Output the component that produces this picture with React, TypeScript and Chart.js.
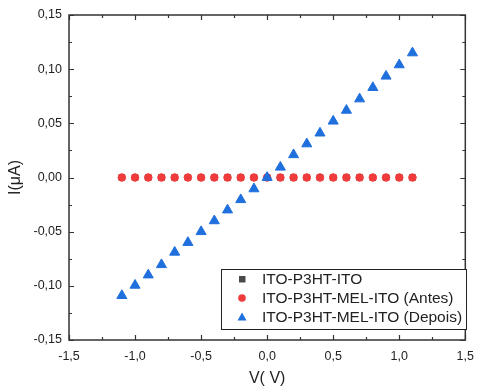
import React, { useEffect, useRef } from "react";
import { Chart, registerables } from "chart.js";

Chart.register(...registerables);

const voltages = [-1.1, -1.0, -0.9, -0.8, -0.7, -0.6, -0.5, -0.4, -0.3, -0.2, -0.1, 0.0, 0.1, 0.2, 0.3, 0.4, 0.5, 0.6, 0.7, 0.8, 0.9, 1.0, 1.1];
const currentP3HT = [0, 0, 0, 0, 0, 0, 0, 0, 0, 0, 0, 0, 0, 0, 0, 0, 0, 0, 0, 0, 0, 0, 0];
const currentAntes = [0, 0, 0, 0, 0, 0, 0, 0, 0, 0, 0, 0, 0, 0, 0, 0, 0, 0, 0, 0, 0, 0, 0];
const currentDepois = [-0.109, -0.0995, -0.09, -0.0805, -0.069, -0.06, -0.05, -0.04, -0.03, -0.0205, -0.0105, 0.0, 0.0095, 0.021, 0.031, 0.041, 0.052, 0.062, 0.0725, 0.083, 0.0935, 0.104, 0.115];
const seriesLabels = ["ITO-P3HT-ITO", "ITO-P3HT-MEL-ITO (Antes)", "ITO-P3HT-MEL-ITO (Depois)"];
const seriesColors = ["#4a4a4a", "#ef3b3b", "#1f6fdd"];
const xTitle = "V( V)";
const yTitle = "I(\u03bcA)";

const FONT = "'Liberation Sans', Arial, sans-serif";
const INK = "#222222";

const framePlugin = {
  id: "frameTicks",
  afterDatasetsDraw(chart: any) {
    const { ctx, chartArea } = chart;
    const { left, right, top, bottom } = chartArea;
    const xs = chart.scales.x;
    const ys = chart.scales.y;
    ctx.save();
    ctx.strokeStyle = "#333333";
    ctx.lineWidth = 1.5;
    ctx.strokeRect(left, top, right - left, bottom - top);
    ctx.lineWidth = 1.2;
    ctx.beginPath();
    for (let v = -1.5; v <= 1.5001; v += 0.25) {
      const major = Math.abs(Math.round(v / 0.5) * 0.5 - v) < 1e-6;
      const len = major ? 5 : 3;
      const px = Math.round(xs.getPixelForValue(v)) + 0.5;
      ctx.moveTo(px, bottom);
      ctx.lineTo(px, bottom - len);
      ctx.moveTo(px, top);
      ctx.lineTo(px, top + len);
    }
    for (let v = -0.15; v <= 0.15001; v += 0.025) {
      const major = Math.abs(Math.round(v / 0.05) * 0.05 - v) < 1e-6;
      const len = major ? 5 : 3;
      const py = Math.round(ys.getPixelForValue(v)) + 0.5;
      ctx.moveTo(left, py);
      ctx.lineTo(left + len, py);
      ctx.moveTo(right, py);
      ctx.lineTo(right - len, py);
    }
    ctx.stroke();
    ctx.restore();
  },
  afterDraw(chart: any) {
    const { ctx } = chart;
    const bx = 221.5, by = 269.5, bw = 245, bh = 60;
    ctx.save();
    ctx.fillStyle = "#ffffff";
    ctx.fillRect(bx, by, bw, bh);
    ctx.strokeStyle = "#222222";
    ctx.lineWidth = 1;
    ctx.strokeRect(bx, by, bw, bh);
    const rows = [279, 298, 317];
    const mx = 242;
    ctx.fillStyle = seriesColors[0];
    ctx.fillRect(mx - 3, rows[0] - 3, 6.5, 6.5);
    ctx.fillStyle = seriesColors[1];
    ctx.beginPath();
    ctx.arc(mx, rows[1], 3.8, 0, Math.PI * 2);
    ctx.fill();
    ctx.fillStyle = seriesColors[2];
    ctx.beginPath();
    ctx.moveTo(mx, rows[2] - 4.5);
    ctx.lineTo(mx + 4.5, rows[2] + 3.5);
    ctx.lineTo(mx - 4.5, rows[2] + 3.5);
    ctx.closePath();
    ctx.fill();
    ctx.fillStyle = INK;
    ctx.font = `15.5px ${FONT}`;
    ctx.textBaseline = "middle";
    ctx.textAlign = "left";
    seriesLabels.forEach((t, i) => ctx.fillText(t, 262, rows[i] + 1));
    ctx.restore();
  },
};

export default function App() {
  const ref = useRef<HTMLCanvasElement | null>(null);
  useEffect(() => {
    document.body.style.margin = "0";
    const canvas = ref.current;
    if (!canvas) return;
    const mk = (ys: number[]) => voltages.map((v, i) => ({ x: v, y: ys[i] }));
    const chart = new Chart(canvas, {
      type: "scatter",
      data: {
        datasets: [
          {
            label: seriesLabels[0],
            data: mk(currentP3HT),
            pointStyle: "rect",
            pointRadius: 4.5,
            pointBackgroundColor: seriesColors[0],
            pointBorderColor: seriesColors[0],
            pointBorderWidth: 0,
            order: 2,
          },
          {
            label: seriesLabels[1],
            data: mk(currentAntes),
            pointStyle: "circle",
            pointRadius: 3.8,
            pointBackgroundColor: seriesColors[1],
            pointBorderColor: seriesColors[1],
            pointBorderWidth: 1,
            order: 1,
          },
          {
            label: seriesLabels[2],
            data: mk(currentDepois),
            pointStyle: "triangle",
            pointRadius: 5.8,
            pointBackgroundColor: seriesColors[2],
            pointBorderColor: seriesColors[2],
            pointBorderWidth: 1,
            order: 0,
          },
        ],
      },
      options: {
        animation: false,
        responsive: true,
        maintainAspectRatio: false,
        layout: { padding: { top: 15, right: 10, left: 0, bottom: 0 } },
        plugins: { legend: { display: false }, tooltip: { enabled: false } },
        scales: {
          x: {
            type: "linear",
            min: -1.5,
            max: 1.5,
            grid: { display: false, drawTicks: false },
            border: { display: false },
            ticks: {
              stepSize: 0.5,
              padding: 9,
              color: INK,
              font: { family: FONT, size: 12.5 },
              callback: (v: any) => Number(v).toFixed(1).replace(".", ","),
            },
            title: {
              display: true,
              text: xTitle,
              color: INK,
              font: { family: FONT, size: 16 },
              padding: { top: 4, bottom: 4 },
            },
            afterFit: (s: any) => {
              s.height = 52;
            },
          },
          y: {
            type: "linear",
            min: -0.15,
            max: 0.15,
            grid: { display: false, drawTicks: false },
            border: { display: false },
            ticks: {
              stepSize: 0.05,
              padding: 7,
              color: INK,
              font: { family: FONT, size: 12.5 },
              callback: (v: any) => Number(v).toFixed(2).replace(".", ","),
            },
            title: {
              display: true,
              text: yTitle,
              color: INK,
              font: { family: FONT, size: 16 },
              padding: { top: 6, bottom: 4 },
            },
            afterFit: (s: any) => {
              s.width = 69;
            },
          },
        },
      },
      plugins: [framePlugin],
    });
    return () => chart.destroy();
  }, []);
  return (
    <div style={{ position: "relative", width: 483, height: 392 }}>
      <canvas ref={ref} />
    </div>
  );
}
